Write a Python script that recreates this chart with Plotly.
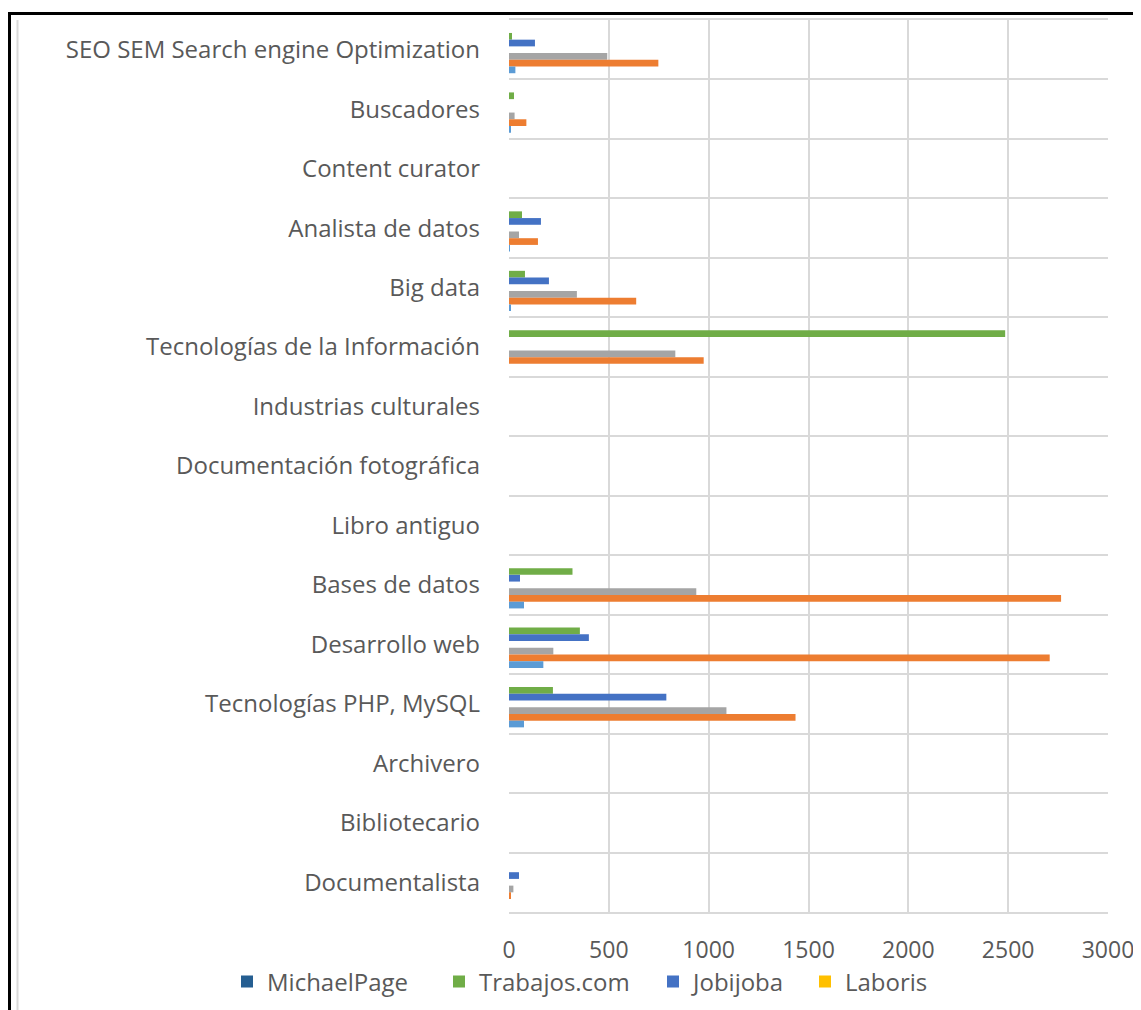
import plotly.graph_objects as go

categories = [
    "SEO SEM Search engine Optimization",
    "Buscadores",
    "Content curator",
    "Analista de datos",
    "Big data",
    "Tecnologías de la Información",
    "Industrias culturales",
    "Documentación fotográfica",
    "Libro antiguo",
    "Bases de datos",
    "Desarrollo web",
    "Tecnologías PHP, MySQL",
    "Archivero",
    "Bibliotecario",
    "Documentalista",
]

michaelpage = [0, 0, 0, 0, 0, 0, 0, 0, 0, 0, 0, 0, 0, 0, 0]
trabajos    = [15, 25, 0, 65, 80, 2485, 0, 0, 0, 318, 355, 220, 0, 0, 0]
jobijoba    = [130, 0, 0, 160, 200, 0, 0, 0, 0, 55, 400, 788, 0, 0, 50]
laboris     = [0, 0, 0, 0, 0, 0, 0, 0, 0, 0, 0, 0, 0, 0, 0]
serie_gris  = [492, 28, 0, 50, 340, 833, 0, 0, 0, 938, 222, 1089, 0, 0, 22]
serie_naranja = [748, 87, 0, 145, 637, 975, 0, 0, 0, 2765, 2708, 1435, 0, 0, 7]
serie_celeste = [32, 8, 0, 3, 7, 0, 0, 0, 0, 75, 172, 75, 0, 0, 0]

x_ticks = [0, 500, 1000, 1500, 2000, 2500, 3000]

FONT = "Open Sans"
GRID = "#d9d9d9"
TXT = "#595959"

# Figure is placed at (8,8) in the page by the browser's body margin.
W, H = 1133, 1002
L, R, T, B = 501, 33, 12, 98
PW, PH = W - L - R, H - T - B


def px(xf):
    return (xf - L) / PW


def py(yf):
    return (H - B - yf) / PH


# (name, values, colour, legend id or None, legend left edge in figure px)
series = [
    ("MichaelPage", michaelpage, "#255E91", "legend", 219),
    ("Trabajos.com", trabajos, "#70AD47", "legend2", 431),
    ("Jobijoba", jobijoba, "#4472C4", "legend3", 645),
    ("Laboris", laboris, "#FFC000", "legend4", 797),
    ("Infojobs", serie_gris, "#A5A5A5", None, None),
    ("Indeed", serie_naranja, "#ED7D31", None, None),
    ("Infoempleo", serie_celeste, "#5B9BD5", None, None),
]

fig = go.Figure()
legends = {}
for name, vals, color, leg, lx in series:
    kw = dict(showlegend=False)
    if leg:
        kw = dict(showlegend=True, legend=leg)
        legends[leg] = dict(
            orientation="h", x=px(lx), xanchor="left", y=py(974), yanchor="middle",
            font=dict(family=FONT, size=24, color=TXT),
            itemwidth=30, itemclick=False, bgcolor="rgba(0,0,0,0)",
        )
    fig.add_trace(go.Bar(
        y=categories, x=vals, name=name, orientation="h",
        marker=dict(color=color, line=dict(width=0)),
        **kw,
    ))

fig.update_layout(
    width=W, height=H,
    margin=dict(l=L, r=R, t=T, b=B, autoexpand=False),
    paper_bgcolor="white", plot_bgcolor="white",
    barmode="group", bargap=0.21, bargroupgap=0,
    font=dict(family=FONT, color=TXT, size=24),
    xaxis=dict(
        range=[0, 3000], tickvals=x_ticks,
        showgrid=True, gridcolor=GRID, gridwidth=2,
        zeroline=False, showline=True, mirror=True, linecolor=GRID, linewidth=2,
        ticks="",
        tickfont=dict(family=FONT, size=23, color=TXT),
        ticklabelstandoff=16, fixedrange=True, automargin=False,
    ),
    yaxis=dict(
        categoryorder="array", categoryarray=categories,
        autorange="reversed", tickson="boundaries",
        showgrid=True, gridcolor=GRID, gridwidth=2,
        zeroline=False, showline=False, ticks="",
        tickfont=dict(family=FONT, size=24, color=TXT),
        ticklabelstandoff=28, fixedrange=True, automargin=False,
    ),
    shapes=[
        dict(type="line", xref="paper", yref="paper", x0=px(0), x1=px(W),
             y0=py(5.5), y1=py(5.5), line=dict(color="black", width=3)),
        dict(type="line", xref="paper", yref="paper", x0=px(1.5), x1=px(1.5),
             y0=py(H), y1=py(5.5), line=dict(color="black", width=3)),
        dict(type="line", xref="paper", yref="paper", x0=px(9.5), x1=px(9.5),
             y0=py(H), y1=py(12), line=dict(color=GRID, width=2)),
    ],
    **legends,
)

fig.write_html("out.html")
